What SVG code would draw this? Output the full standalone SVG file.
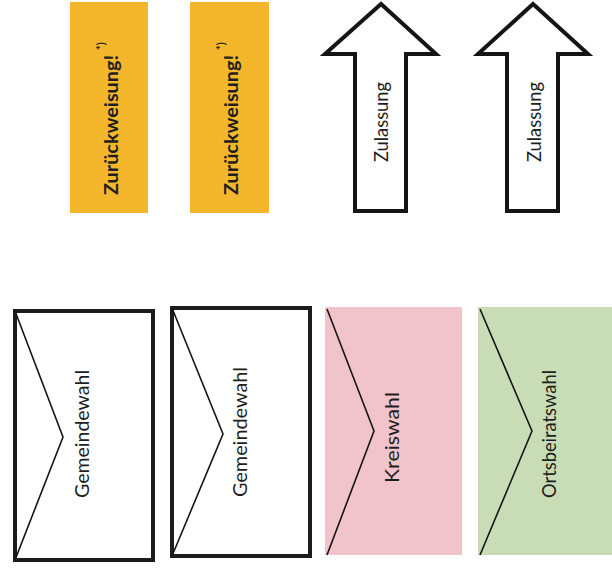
<svg xmlns="http://www.w3.org/2000/svg" width="612" height="574" viewBox="0 0 612 574">
<style>
.lbl{font-family:Lato,"Liberation Sans",sans-serif;font-size:19px;fill:#1e1e1e}
.bold{font-weight:bold;font-size:18px}
.sup{font-family:Lato,"Liberation Sans",sans-serif;font-size:11px;font-weight:bold;fill:#1e1e1e}
.note{fill:#f4b62b}
.arrow{fill:#fff;stroke:#151515;stroke-width:4;stroke-linejoin:miter}
.env{fill:#fff;stroke:#1c1c1c;stroke-width:4}
.flap{fill:none;stroke:#151515;stroke-width:1.6}
</style>
<rect width="612" height="574" fill="#fff"/>
<g id="note1">
<rect class="note" x="70" y="2" width="78" height="211"/>
<text class="lbl bold" transform="translate(118,195) rotate(-90)" textLength="140" lengthAdjust="spacingAndGlyphs">Zurückweisung!</text>
<text class="sup" transform="translate(105,50) rotate(-90)">*)</text>
</g>
<g id="note2">
<rect class="note" x="190" y="2" width="79" height="211"/>
<text class="lbl bold" transform="translate(238,195) rotate(-90)" textLength="140" lengthAdjust="spacingAndGlyphs">Zurückweisung!</text>
<text class="sup" transform="translate(225,50) rotate(-90)">*)</text>
</g>
<g id="arrow1">
<polygon class="arrow" points="381,4 325,54 355,54 355,211 406,211 406,54 436,54"/>
<text class="lbl" transform="translate(388,162) rotate(-90)" textLength="80" lengthAdjust="spacingAndGlyphs">Zulassung</text>
</g>
<g id="arrow2">
<polygon class="arrow" points="533,4 478,54 507,54 507,211 558,211 558,54 588,54"/>
<text class="lbl" transform="translate(541,162) rotate(-90)" textLength="80" lengthAdjust="spacingAndGlyphs">Zulassung</text>
</g>
<g id="env1">
<rect class="env" x="15" y="311" width="138" height="249"/>
<polyline class="flap" points="15,311 63,437 15,560"/>
<text class="lbl" transform="translate(89,498) rotate(-90)" textLength="128" lengthAdjust="spacingAndGlyphs">Gemeindewahl</text>
</g>
<g id="env2">
<rect class="env" x="172" y="308" width="138" height="248"/>
<polyline class="flap" points="172,308 223,434 172,556"/>
<text class="lbl" transform="translate(247,497) rotate(-90)" textLength="130" lengthAdjust="spacingAndGlyphs">Gemeindewahl</text>
</g>
<g id="env3">
<rect x="325" y="307" width="137" height="248" fill="#f1c4cc"/>
<polyline class="flap" points="327,309 374,431 327,555"/>
<text class="lbl" transform="translate(399,483) rotate(-90)" textLength="91" lengthAdjust="spacingAndGlyphs">Kreiswahl</text>
</g>
<g id="env4">
<rect x="478" y="307" width="134" height="248" fill="#c8dcb6"/>
<polyline class="flap" points="480,309 532,431 480,555"/>
<text class="lbl" transform="translate(556,498) rotate(-90)" textLength="128" lengthAdjust="spacingAndGlyphs">Ortsbeiratswahl</text>
</g>
</svg>
